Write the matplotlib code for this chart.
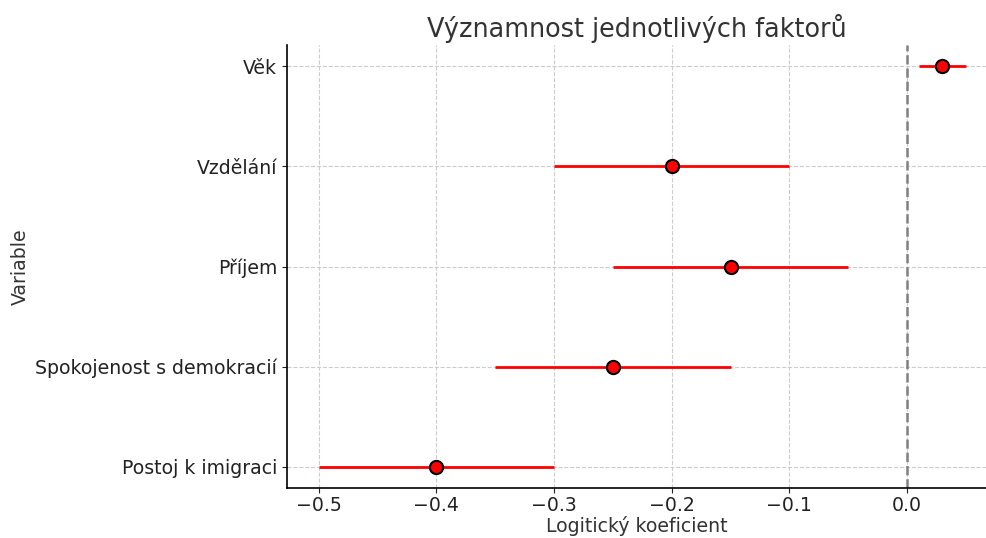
import numpy as np
import matplotlib.pyplot as plt

# Koeficienty a intervaly spolehlivosti
variables = ["Věk", "Vzdělání", "Příjem", "Spokojenost s demokracií", "Postoj k imigraci"]
coefs = [0.03, -0.2, -0.15, -0.25, -0.4]
ci_low = [0.01, -0.3, -0.25, -0.35, -0.5]
ci_high = [0.05, -0.1, -0.05, -0.15, -0.3]

plt.rcParams['font.family'] = ['DejaVu Sans']

fig = plt.figure(figsize=(9.87, 5.38), dpi=100)
ax = fig.add_axes([287/987, 50/538, 700/987, 443/538])

ypos = np.arange(len(variables))[::-1]
err = [np.array(coefs) - np.array(ci_low), np.array(ci_high) - np.array(coefs)]

ax.errorbar(coefs, ypos, xerr=err, fmt='o', color='red', ecolor='red',
            elinewidth=2, capsize=0, markersize=9.5, markerfacecolor='red',
            markeredgecolor='black', markeredgewidth=1.5, zorder=3)
ax.axvline(0, color='gray', linestyle='--', linewidth=1.8, zorder=2)

ax.set_yticks(ypos)
ax.set_yticklabels(variables)
ax.set_xlim(-0.527, 0.068)
ax.set_ylim(-0.21, 4.21)

ax.grid(True, linestyle='--', color='#cccccc', linewidth=0.8)
ax.set_axisbelow(True)
for s in ['top', 'right']:
    ax.spines[s].set_visible(False)
ax.spines['left'].set_linewidth(1.2)
ax.spines['bottom'].set_linewidth(1.2)

ax.tick_params(labelsize=13.6, colors='#222222')
ax.tick_params(axis='x', pad=2)
ax.set_title("Významnost jednotlivých faktorů", fontsize=18.4, color='#333333')
ax.set_xlabel("Logitický koeficient", fontsize=13.6, color='#333333', labelpad=1)
ax.set_ylabel("Variable", fontsize=13.6, color='#333333')
ax.yaxis.set_label_coords(-0.368, 0.5)

fig.savefig("out.png", dpi=100)
